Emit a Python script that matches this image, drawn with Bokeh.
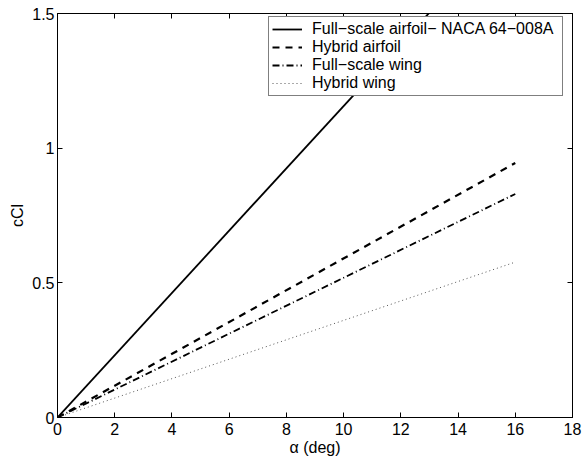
from bokeh.plotting import figure
from bokeh.models import (Range1d, FixedTicker, LinearAxis, NumeralTickFormatter,
                          Legend, LegendItem)
from bokeh.embed import file_html
from bokeh.resources import INLINE

# ---- data ----
alpha = [0, 16]
full_airfoil = [0, 1.85]
hybrid_airfoil = [0, 0.945]
full_wing = [0, 0.83]
hybrid_wing = [0, 0.577]

series_labels = ["Full\u2212scale airfoil\u2212 NACA 64\u2212008A", "Hybrid airfoil",
                 "Full\u2212scale wing", "Hybrid wing"]
x_ticks = [0, 2, 4, 6, 8, 10, 12, 14, 16, 18]
y_ticks = [0, 0.5, 1, 1.5]

FONT = "Liberation Sans"
FS = "16px"

p = figure(width=584, height=458, output_backend="svg", toolbar_location=None,
           x_range=Range1d(0, 18), y_range=Range1d(0, 1.5),
           min_border_left=57, min_border_right=12, min_border_top=13, min_border_bottom=39,
           x_axis_label="\u03b1 (deg)", y_axis_label="cCl")
p.xgrid.visible = False
p.ygrid.visible = False
p.outline_line_color = "black"
p.outline_line_width = 1
p.background_fill_color = "white"
p.border_fill_color = "white"

for ax, ticks in ((p.xaxis[0], x_ticks), (p.yaxis[0], y_ticks)):
    ax.ticker = FixedTicker(ticks=ticks)
    ax.formatter = NumeralTickFormatter(format="0.[0]")
    ax.major_tick_in = 5
    ax.major_tick_out = 0
    ax.minor_tick_line_color = None
    ax.axis_line_color = "black"
    ax.major_tick_line_color = "black"
    ax.major_label_text_font = FONT
    ax.major_label_text_font_size = FS
    ax.major_label_text_color = "black"
    ax.axis_label_text_font = FONT
    ax.axis_label_text_font_size = FS
    ax.axis_label_text_font_style = "normal"
    ax.axis_label_text_color = "black"
p.xaxis[0].major_label_standoff = 5
p.xaxis[0].axis_label_standoff = 1
p.yaxis[0].major_label_standoff = 3
p.yaxis[0].axis_label_standoff = 3

for loc, ticks in (("above", x_ticks), ("right", y_ticks)):
    ax = LinearAxis(ticker=FixedTicker(ticks=ticks), major_tick_in=5, major_tick_out=0,
                    minor_tick_line_color=None, major_label_text_font_size="1px",
                    major_label_text_color=None, major_label_standoff=0,
                    axis_line_color="black", major_tick_line_color="black")
    p.add_layout(ax, loc)

r1 = p.line(alpha, full_airfoil, line_color="black", line_width=1.8)
r2 = p.line(alpha, hybrid_airfoil, line_color="black", line_width=2.2, line_dash="7 6")
r3 = p.line(alpha, full_wing, line_color="black", line_width=1.8, line_dash="7 3 1 3")
r4 = p.line(alpha, hybrid_wing, line_color="#555555", line_width=1, line_dash="1 3")

legend = Legend(items=[LegendItem(label=l, renderers=[r]) for l, r in
                       zip(series_labels, [r1, r2, r3, r4])],
                location=(211, 321), padding=3, spacing=0,
                label_height=16, glyph_height=16, glyph_width=30, label_standoff=10,
                label_width=247,
                label_text_font=FONT, label_text_font_size=FS, label_text_color="black",
                border_line_color="black", border_line_width=1,
                background_fill_color="white", background_fill_alpha=1)
p.add_layout(legend, "center")

open("out.html", "w").write(file_html(p, INLINE))
